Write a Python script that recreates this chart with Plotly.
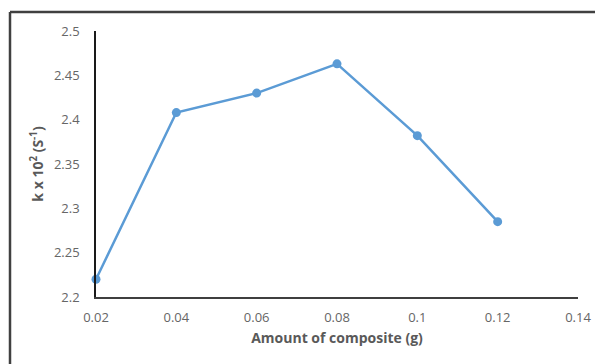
import plotly.graph_objects as go

amount = [0.02, 0.04, 0.06, 0.08, 0.10, 0.12]
k_values = [2.220, 2.408, 2.430, 2.463, 2.382, 2.285]

x_ticks = [0.02, 0.04, 0.06, 0.08, 0.10, 0.12, 0.14]
x_ticktext = ["0.02", "0.04", "0.06", "0.08", "0.1", "0.12", "0.14"]
y_ticks = [2.2, 2.25, 2.3, 2.35, 2.4, 2.45, 2.5]
y_ticktext = ["2.2", "2.25", "2.3", "2.35", "2.4", "2.45", "2.5"]

OFF = 8  # default body margin of the page
W, H = 603 - OFF, 364 - OFF
L, R, T, B = 96 - OFF, 25, 31 - OFF, 67
pw, ph = W - L - R, H - T - B

def px_x(p):
    return (p - OFF - L) / pw

def px_y(p):
    return 1 - (p - OFF - T) / ph

fig = go.Figure()
fig.add_trace(go.Scatter(
    x=amount, y=k_values, mode="lines+markers",
    line=dict(color="#5B9BD5", width=2.5),
    marker=dict(color="#5B9BD5", size=9),
    cliponaxis=False, showlegend=False,
))

fig.add_shape(type="line", xref="paper", yref="paper",
              x0=px_x(10), x1=px_x(10), y0=px_y(372), y1=px_y(12),
              line=dict(color="#404040", width=2.5))
fig.add_shape(type="line", xref="paper", yref="paper",
              x0=px_x(10), x1=px_x(610), y0=px_y(12), y1=px_y(12),
              line=dict(color="#404040", width=2.5))

font_family = "Open Sans, Lato, sans-serif"
fig.update_layout(
    width=W, height=H,
    margin=dict(l=L, r=R, t=T, b=B),
    paper_bgcolor="white", plot_bgcolor="white",
    font=dict(family=font_family, color="#595959"),
    xaxis=dict(
        range=[0.02, 0.14], tickvals=x_ticks, ticktext=x_ticktext,
        showgrid=False, zeroline=False,
        showline=True, linecolor="#3f3f3f", linewidth=2,
        ticks="outside", ticklen=7, tickcolor="rgba(0,0,0,0)",
        tickfont=dict(size=13, color="#666666"),
        title=dict(text="<b>Amount of composite (g)</b>", font=dict(size=14, color="#595959"), standoff=9),
    ),
    yaxis=dict(
        range=[2.2, 2.5], tickvals=y_ticks, ticktext=y_ticktext,
        showgrid=False, zeroline=False,
        showline=True, linecolor="#1a1a1a", linewidth=1.5,
        ticks="outside", ticklen=12, tickcolor="rgba(0,0,0,0)",
        tickfont=dict(size=13, color="#666666"),
        title=dict(text="<b>k x 10<sup>2</sup> (S<sup>-1</sup>)</b>", font=dict(size=14, color="#595959"), standoff=7),
    ),
)

fig.write_html("out.html")
